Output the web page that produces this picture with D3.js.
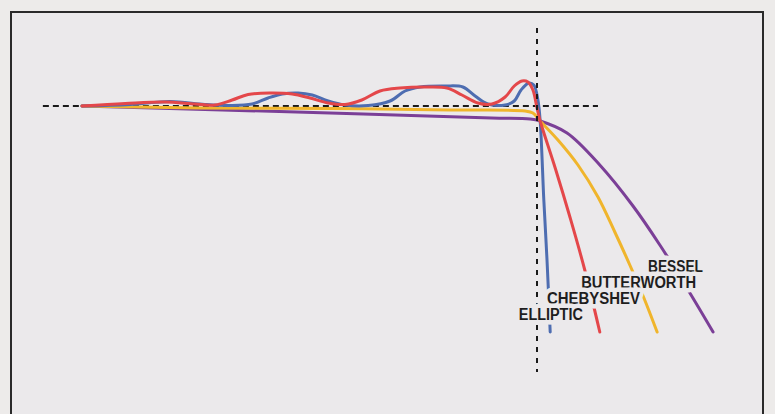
<!DOCTYPE html>
<html>
<head>
<meta charset="utf-8">
<script src="https://cdn.jsdelivr.net/npm/d3@7"></script>
<style>
  html, body { margin: 0; padding: 0; background: #edebea; }
  svg { display: block; }
</style>
</head>
<body>
<div id="chart"></div>
<script>
// filter responses, frequency relative to cutoff (1 = corner), gain in dB
const chebyshevF = [0, 0.095, 0.182, 0.248, 0.292, 0.330, 0.365, 0.413, 0.462, 0.501, 0.541, 0.578, 0.615, 0.655, 0.699, 0.754, 0.802, 0.835, 0.870, 0.901, 0.930, 0.950, 0.967, 0.980, 0.991, 1.0, 1.007, 1.040, 1.073, 1.105, 1.138];
const chebyshevG = [0, 0.5, 0.8, 0.4, 0.2, 1.2, 2.3, 2.6, 2.4, 1.6, 0.6, 0.3, 1.2, 3.0, 3.6, 3.8, 3.6, 2.2, 0.6, 0.4, 1.8, 4.0, 5.0, 4.8, 3.2, -0.4, -3, -12.4, -22.4, -32.8, -45.2];

const ellipticF = [0, 0.106, 0.193, 0.270, 0.325, 0.374, 0.409, 0.440, 0.475, 0.506, 0.541, 0.578, 0.629, 0.677, 0.710, 0.743, 0.798, 0.837, 0.864, 0.892, 0.930, 0.950, 0.965, 0.982, 0.993, 1.002, 1.007, 1.015, 1.022, 1.029];
const ellipticG = [0, 0.3, 0.9, 0.3, 0.1, 0.4, 1.6, 2.4, 2.6, 2.2, 1.0, 0.2, 0.1, 1.0, 3.0, 3.8, 4.0, 3.8, 2.0, 0.4, 0.2, 1.0, 3.2, 4.6, 4.2, 1.2, -3, -18.8, -30.8, -45.2];

const butterworthF = [0, 0.259, 0.545, 0.809, 0.974, 0.991, 1.007, 1.046, 1.090, 1.134, 1.171, 1.204, 1.235, 1.264];
const butterworthG = [0, -0.4, -0.5, -0.8, -1.0, -1.4, -3, -6.8, -11.8, -18.2, -25.2, -31.8, -38.4, -45.2];

const besselF = [0, 0.545, 0.9, 0.985, 1.007, 1.066, 1.138, 1.211, 1.270, 1.332, 1.387];
const besselG = [0, -1.4, -2.4, -2.6, -3, -5.4, -11.8, -20, -27.8, -36.8, -45.2];

const filterNames = ["BESSEL", "BUTTERWORTH", "ELLIPTIC", "CHEBYSHEV"];

const W = 775, H = 414;
const colors = {
  BESSEL: "#7b3f97",
  BUTTERWORTH: "#f0b52c",
  ELLIPTIC: "#4e6db1",
  CHEBYSHEV: "#e4474a"
};

const series = {
  BESSEL: d3.zip(besselF, besselG),
  BUTTERWORTH: d3.zip(butterworthF, butterworthG),
  ELLIPTIC: d3.zip(ellipticF, ellipticG),
  CHEBYSHEV: d3.zip(chebyshevF, chebyshevG)
};

let x = d3.scaleLinear().domain([0, 1]).range([82, 537]);
let y = d3.scaleLinear().domain([0, -45]).range([106, 331]);

let svg = d3.select("#chart").append("svg")
    .attr("width", W)
    .attr("height", H);

// panel + frame
svg.append("rect")
    .attr("x", 11).attr("y", 12)
    .attr("width", 752).attr("height", 420)
    .style("fill", "#ebe9eb")
    .style("stroke", "#2a2a2a")
    .style("stroke-width", 2);

// reference lines: 0 dB and cutoff
svg.append("line")
    .attr("x1", x(-0.086)).attr("x2", x(1.134))
    .attr("y1", y(0)).attr("y2", y(0))
    .style("stroke", "#1a1a1a")
    .style("stroke-width", 2)
    .style("stroke-dasharray", "6,4");

let line = d3.line()
    .x(d => x(d[0]))
    .y(d => y(d[1]))
    .curve(d3.curveCatmullRom.alpha(0.5));

svg.append("g")
    .attr("class", "curves")
    .selectAll("path")
    .data(filterNames)
    .enter().append("path")
    .attr("d", d => line(series[d]))
    .style("fill", "none")
    .style("stroke", d => colors[d])
    .style("stroke-width", 3)
    .style("stroke-linecap", "round")
    .style("stroke-linejoin", "round");

svg.append("line")
    .attr("x1", x(1)).attr("x2", x(1))
    .attr("y1", y(15.6)).attr("y2", y(-53.2))
    .style("stroke", "#1a1a1a")
    .style("stroke-width", 2)
    .style("stroke-dasharray", "5,6");

// labels sit near the end of each curve, with a halo that cuts the lines
const labelLayout = [
  {name: "BESSEL",      f: 1.244, g: -33.2, len: 55},
  {name: "BUTTERWORTH", f: 1.097, g: -36.4, len: 115},
  {name: "CHEBYSHEV",   f: 1.022, g: -39.6, len: 93},
  {name: "ELLIPTIC",    f: 0.960, g: -42.8, len: 64}
];

svg.append("g")
    .attr("class", "labels")
    .selectAll("text")
    .data(labelLayout)
    .enter().append("text")
    .attr("x", d => x(d.f))
    .attr("y", d => y(d.g))
    .attr("textLength", d => d.len)
    .attr("lengthAdjust", "spacingAndGlyphs")
    .text(d => d.name)
    .style("font-family", "'Liberation Sans', Arial, sans-serif")
    .style("font-weight", "bold")
    .style("font-size", "16px")
    .style("fill", "#1e1e1e")
    .style("stroke", "#ebe9eb")
    .style("stroke-width", 9)
    .style("stroke-linejoin", "round")
    .style("paint-order", "stroke");
</script>
</body>
</html>
